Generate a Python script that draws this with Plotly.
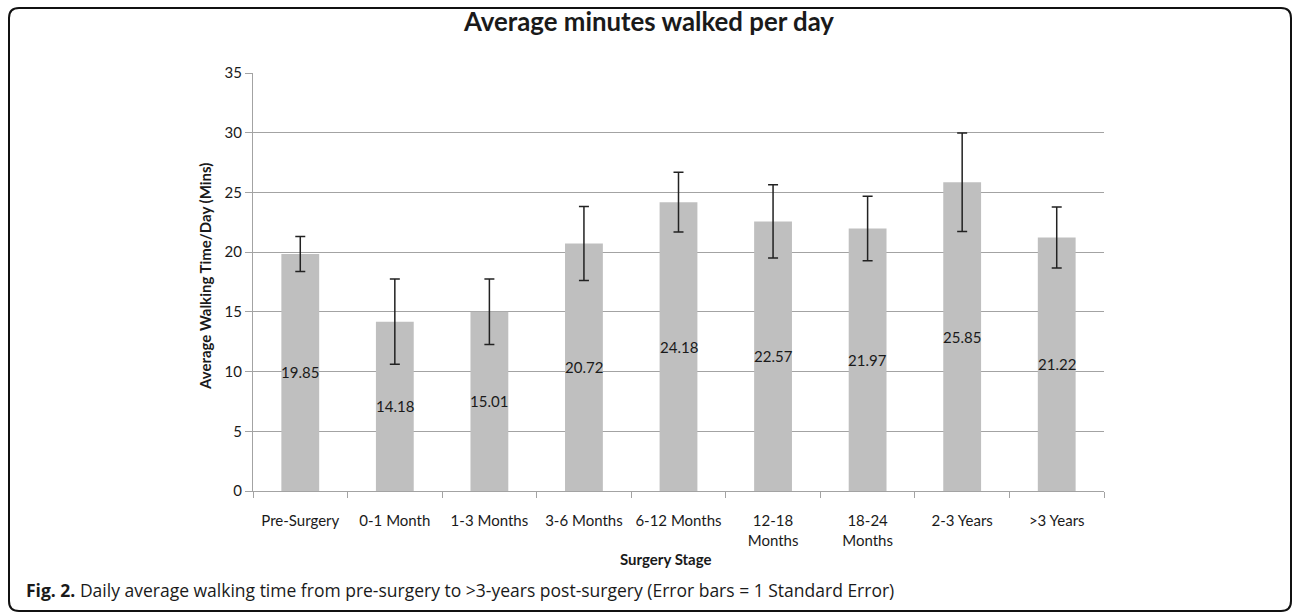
import plotly.graph_objects as go

categories = ["Pre-Surgery", "0-1 Month", "1-3 Months", "3-6 Months", "6-12 Months",
              "12-18<br>Months", "18-24<br>Months", "2-3 Years", ">3 Years"]
means = [19.85, 14.18, 15.01, 20.72, 24.18, 22.57, 21.97, 25.85, 21.22]
std_err = [1.47, 3.57, 2.74, 3.1, 2.5, 3.07, 2.7, 4.13, 2.55]
y_ticks = [0, 5, 10, 15, 20, 25, 30, 35]

FONT = "Lato"
TXT = "#1a1a1a"

fig = go.Figure()
fig.add_trace(go.Bar(
    x=categories, y=means,
    marker=dict(color="#bfbfbf", line=dict(width=0)),
    width=0.4,
    error_y=dict(type="data", array=std_err, visible=True, color="#222222",
                 thickness=1.5, width=5),
    showlegend=False,
))

# value labels centred in each bar
for c, m in zip(categories, means):
    fig.add_annotation(x=c, y=m / 2, text=f"{m:.2f}", showarrow=False,
                       xanchor="center", yanchor="middle",
                       font=dict(family=FONT, size=15, color=TXT))

fig.update_layout(
    width=1293, height=613,
    margin=dict(l=253, r=189, t=73, b=122),
    paper_bgcolor="white", plot_bgcolor="white",
    font=dict(family=FONT, size=15, color=TXT),
    title=dict(text="<b>Average minutes walked per day</b>", x=(649 - 253) / 851, xref="paper",
               y=1 - 22 / 613, yref="container", xanchor="center", yanchor="middle",
               font=dict(family=FONT, size=25.8, color=TXT)),
    bargap=0.6,
)
fig.update_yaxes(range=[0, 35], tickvals=y_ticks, showgrid=True, gridcolor="#a3a3a3",
                 gridwidth=1, showline=True, linecolor="#a3a3a3", linewidth=1,
                 ticks="outside", ticklen=7, tickcolor="#a3a3a3", zeroline=False,
                 tickfont=dict(family=FONT, size=15, color=TXT))
fig.update_xaxes(showline=True, linecolor="#a3a3a3", linewidth=1, ticks="outside",
                 tickson="boundaries", ticklen=6, tickcolor="#a3a3a3", tickangle=0,
                 ticklabelstandoff=16,
                 tickfont=dict(family=FONT, size=15, color=TXT))

fig.add_annotation(text="<b>Average Walking Time/Day (Mins)</b>", xref="paper", yref="paper",
                   x=(205 - 253) / 851, y=(491 - 277) / 418, textangle=-90, showarrow=False,
                   xanchor="center", yanchor="middle",
                   font=dict(family=FONT, size=15, color=TXT))
fig.add_annotation(text="<b>Surgery Stage</b>", xref="paper", yref="paper",
                   x=(666 - 253) / 851, y=(491 - 559) / 418, showarrow=False,
                   xanchor="center", yanchor="middle",
                   font=dict(family=FONT, size=15, color=TXT))
fig.add_annotation(text="<b>Fig. 2.</b> Daily average walking time from pre-surgery to >3-years post-surgery (Error bars = 1 Standard Error)",
                   xref="paper", yref="paper", x=(24 - 253) / 851, y=(491 - 590) / 418,
                   showarrow=False, xanchor="left", yanchor="middle",
                   font=dict(family="Open Sans", size=17.5, color=TXT))

# rounded frame
def px(x):
    return (x - 253) / 851

def py(y):
    return (491 - y) / 418

L, R, T, B, r = 9, 1291, 8, 611, 10
path = (f"M {px(L)},{py(T + r)} Q {px(L)},{py(T)} {px(L + r)},{py(T)} "
        f"L {px(R - r)},{py(T)} Q {px(R)},{py(T)} {px(R)},{py(T + r)} "
        f"L {px(R)},{py(B - r)} Q {px(R)},{py(B)} {px(R - r)},{py(B)} "
        f"L {px(L + r)},{py(B)} Q {px(L)},{py(B)} {px(L)},{py(B - r)} Z")
fig.add_shape(type="path", path=path, xref="paper", yref="paper",
              line=dict(color="#111111", width=2))

fig.write_html("out.html", config={"displayModeBar": False},
               post_script="document.body.style.margin='0';")
